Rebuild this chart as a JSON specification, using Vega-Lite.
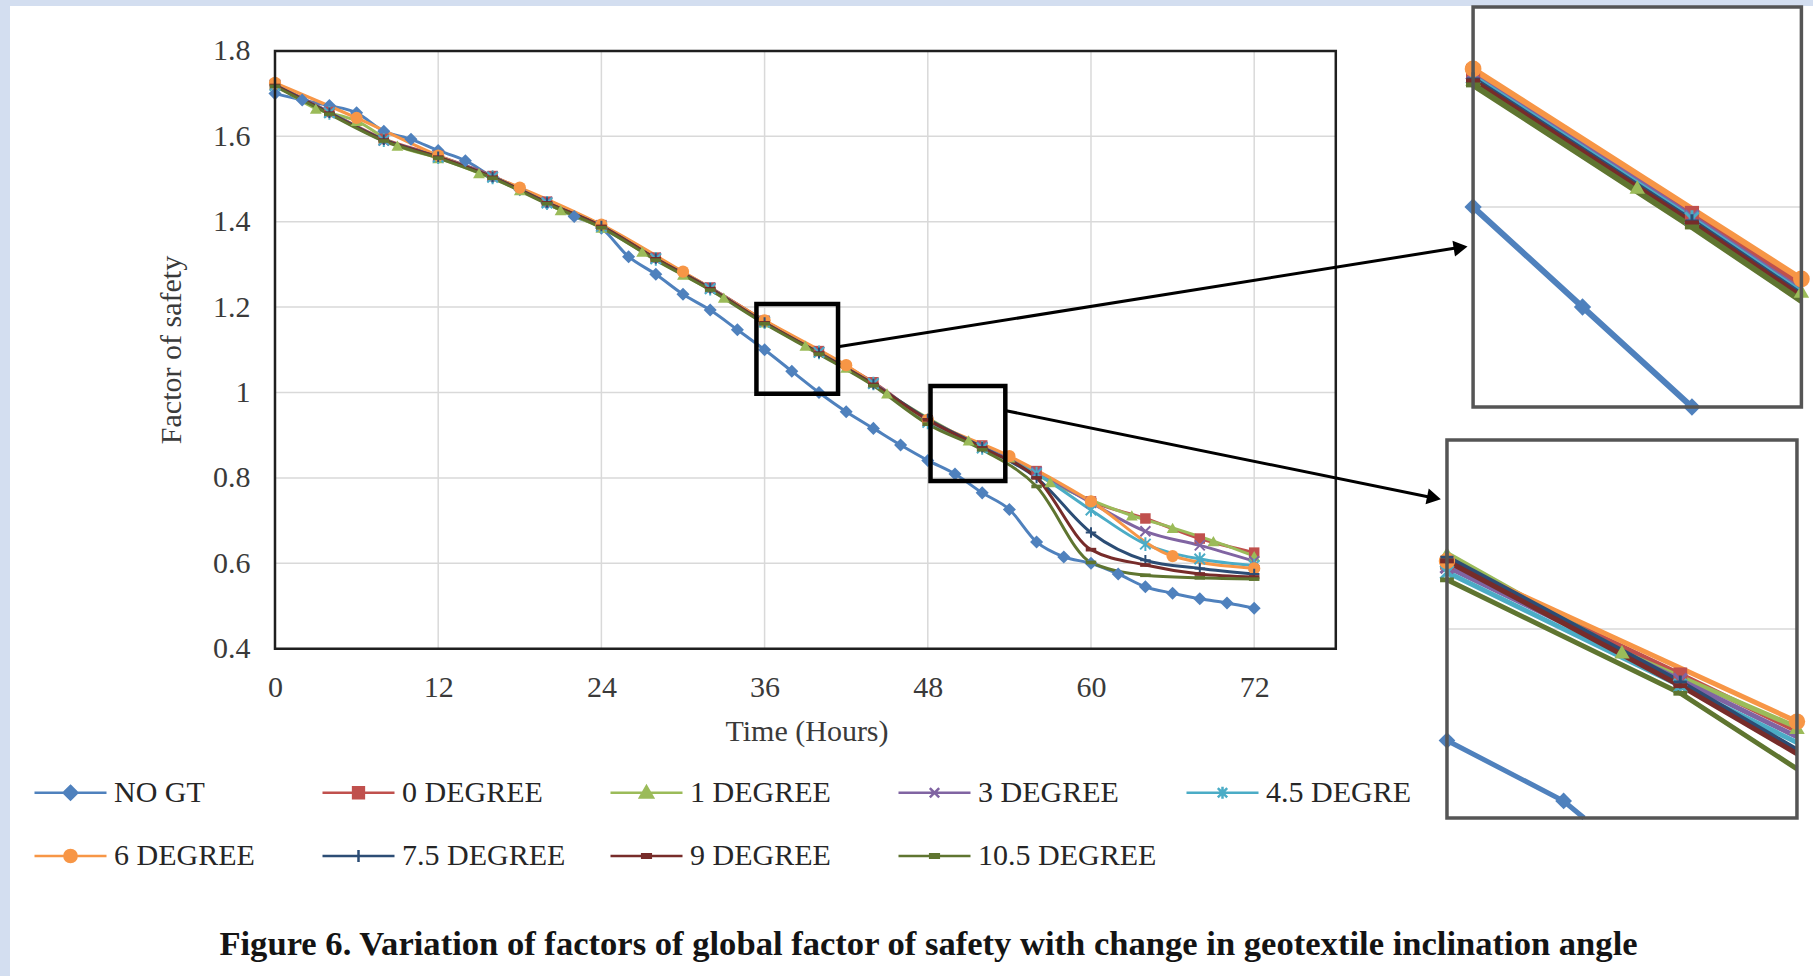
{
  "$schema": "https://vega.github.io/schema/vega-lite/v6.json",
  "width": 1803,
  "height": 970,
  "autosize": {"type": "none"},
  "padding": {"left": 10, "top": 6, "right": 0, "bottom": 0},
  "background": "#d3def0",
  "config": {
    "font": "Liberation Serif",
    "view": {"stroke": null, "fill": "white"}
  },
  "title": {
    "text": "Figure 6. Variation of factors of global factor of safety with change in geotextile inclination angle",
    "orient": "bottom", "frame": "group", "anchor": "middle", "offset": -31, "dx": 17, "baseline": "middle",
    "font": "Liberation Serif", "fontSize": 34.6, "fontWeight": "bold", "color": "#141414"
  },
  "datasets": {
    "one": [{}],
    "hgrid": [{"g": 0.6}, {"g": 0.8}, {"g": 1.0}, {"g": 1.2}, {"g": 1.4}, {"g": 1.6}],
    "vgrid": [{"g": 12}, {"g": 24}, {"g": 36}, {"g": 48}, {"g": 60}, {"g": 72}],
    "main": [
      {"s": "NO GT", "t": 0, "v": 1.70}, {"s": "NO GT", "t": 2, "v": 1.685}, {"s": "NO GT", "t": 4, "v": 1.672}, {"s": "NO GT", "t": 6, "v": 1.655},
      {"s": "NO GT", "t": 8, "v": 1.612}, {"s": "NO GT", "t": 10, "v": 1.593}, {"s": "NO GT", "t": 12, "v": 1.567}, {"s": "NO GT", "t": 14, "v": 1.543},
      {"s": "NO GT", "t": 16, "v": 1.505}, {"s": "NO GT", "t": 18, "v": 1.475}, {"s": "NO GT", "t": 20, "v": 1.443}, {"s": "NO GT", "t": 22, "v": 1.412},
      {"s": "NO GT", "t": 24, "v": 1.385}, {"s": "NO GT", "t": 26, "v": 1.318}, {"s": "NO GT", "t": 28, "v": 1.277}, {"s": "NO GT", "t": 30, "v": 1.23},
      {"s": "NO GT", "t": 32, "v": 1.193}, {"s": "NO GT", "t": 34, "v": 1.147}, {"s": "NO GT", "t": 36, "v": 1.10}, {"s": "NO GT", "t": 38, "v": 1.05},
      {"s": "NO GT", "t": 40, "v": 1.0}, {"s": "NO GT", "t": 42, "v": 0.955}, {"s": "NO GT", "t": 44, "v": 0.916}, {"s": "NO GT", "t": 46, "v": 0.877},
      {"s": "NO GT", "t": 48, "v": 0.841}, {"s": "NO GT", "t": 50, "v": 0.809}, {"s": "NO GT", "t": 52, "v": 0.765}, {"s": "NO GT", "t": 54, "v": 0.726},
      {"s": "NO GT", "t": 56, "v": 0.65}, {"s": "NO GT", "t": 58, "v": 0.615}, {"s": "NO GT", "t": 60, "v": 0.60}, {"s": "NO GT", "t": 62, "v": 0.575},
      {"s": "NO GT", "t": 64, "v": 0.545}, {"s": "NO GT", "t": 66, "v": 0.53}, {"s": "NO GT", "t": 68, "v": 0.517}, {"s": "NO GT", "t": 70, "v": 0.507},
      {"s": "NO GT", "t": 72, "v": 0.495},
      {"s": "0 DEGREE", "t": 0, "v": 1.722}, {"s": "0 DEGREE", "t": 4, "v": 1.657}, {"s": "0 DEGREE", "t": 8, "v": 1.594}, {"s": "0 DEGREE", "t": 12, "v": 1.554},
      {"s": "0 DEGREE", "t": 16, "v": 1.507}, {"s": "0 DEGREE", "t": 20, "v": 1.447}, {"s": "0 DEGREE", "t": 24, "v": 1.392}, {"s": "0 DEGREE", "t": 28, "v": 1.316},
      {"s": "0 DEGREE", "t": 32, "v": 1.246}, {"s": "0 DEGREE", "t": 36, "v": 1.168}, {"s": "0 DEGREE", "t": 40, "v": 1.097}, {"s": "0 DEGREE", "t": 44, "v": 1.024},
      {"s": "0 DEGREE", "t": 48, "v": 0.935}, {"s": "0 DEGREE", "t": 52, "v": 0.876}, {"s": "0 DEGREE", "t": 56, "v": 0.816}, {"s": "0 DEGREE", "t": 60, "v": 0.745},
      {"s": "0 DEGREE", "t": 64, "v": 0.705}, {"s": "0 DEGREE", "t": 68, "v": 0.658}, {"s": "0 DEGREE", "t": 72, "v": 0.625},
      {"s": "1 DEGREE", "t": 0, "v": 1.722}, {"s": "1 DEGREE", "t": 3, "v": 1.665}, {"s": "1 DEGREE", "t": 6, "v": 1.636}, {"s": "1 DEGREE", "t": 9, "v": 1.578},
      {"s": "1 DEGREE", "t": 12, "v": 1.549}, {"s": "1 DEGREE", "t": 15, "v": 1.514}, {"s": "1 DEGREE", "t": 18, "v": 1.474}, {"s": "1 DEGREE", "t": 21, "v": 1.427},
      {"s": "1 DEGREE", "t": 24, "v": 1.386}, {"s": "1 DEGREE", "t": 27, "v": 1.330}, {"s": "1 DEGREE", "t": 30, "v": 1.276}, {"s": "1 DEGREE", "t": 33, "v": 1.222},
      {"s": "1 DEGREE", "t": 36, "v": 1.164}, {"s": "1 DEGREE", "t": 39, "v": 1.110}, {"s": "1 DEGREE", "t": 42, "v": 1.058}, {"s": "1 DEGREE", "t": 45, "v": 0.998},
      {"s": "1 DEGREE", "t": 48, "v": 0.940}, {"s": "1 DEGREE", "t": 51, "v": 0.888}, {"s": "1 DEGREE", "t": 54, "v": 0.848}, {"s": "1 DEGREE", "t": 57, "v": 0.790},
      {"s": "1 DEGREE", "t": 60, "v": 0.748}, {"s": "1 DEGREE", "t": 63, "v": 0.712}, {"s": "1 DEGREE", "t": 66, "v": 0.683}, {"s": "1 DEGREE", "t": 69, "v": 0.652},
      {"s": "1 DEGREE", "t": 72, "v": 0.617},
      {"s": "3 DEGREE", "t": 0, "v": 1.72}, {"s": "3 DEGREE", "t": 4, "v": 1.656}, {"s": "3 DEGREE", "t": 8, "v": 1.59}, {"s": "3 DEGREE", "t": 12, "v": 1.553},
      {"s": "3 DEGREE", "t": 16, "v": 1.506}, {"s": "3 DEGREE", "t": 20, "v": 1.446}, {"s": "3 DEGREE", "t": 24, "v": 1.39}, {"s": "3 DEGREE", "t": 28, "v": 1.315},
      {"s": "3 DEGREE", "t": 32, "v": 1.245}, {"s": "3 DEGREE", "t": 36, "v": 1.167}, {"s": "3 DEGREE", "t": 40, "v": 1.095}, {"s": "3 DEGREE", "t": 44, "v": 1.022},
      {"s": "3 DEGREE", "t": 48, "v": 0.933}, {"s": "3 DEGREE", "t": 52, "v": 0.873}, {"s": "3 DEGREE", "t": 56, "v": 0.814}, {"s": "3 DEGREE", "t": 60, "v": 0.742},
      {"s": "3 DEGREE", "t": 64, "v": 0.675}, {"s": "3 DEGREE", "t": 68, "v": 0.642}, {"s": "3 DEGREE", "t": 72, "v": 0.605},
      {"s": "4.5 DEGREE", "t": 0, "v": 1.719}, {"s": "4.5 DEGREE", "t": 4, "v": 1.655}, {"s": "4.5 DEGREE", "t": 8, "v": 1.591}, {"s": "4.5 DEGREE", "t": 12, "v": 1.551},
      {"s": "4.5 DEGREE", "t": 16, "v": 1.504}, {"s": "4.5 DEGREE", "t": 20, "v": 1.444}, {"s": "4.5 DEGREE", "t": 24, "v": 1.389}, {"s": "4.5 DEGREE", "t": 28, "v": 1.313},
      {"s": "4.5 DEGREE", "t": 32, "v": 1.243}, {"s": "4.5 DEGREE", "t": 36, "v": 1.165}, {"s": "4.5 DEGREE", "t": 40, "v": 1.094}, {"s": "4.5 DEGREE", "t": 44, "v": 1.021},
      {"s": "4.5 DEGREE", "t": 48, "v": 0.930}, {"s": "4.5 DEGREE", "t": 52, "v": 0.870}, {"s": "4.5 DEGREE", "t": 56, "v": 0.81}, {"s": "4.5 DEGREE", "t": 60, "v": 0.725},
      {"s": "4.5 DEGREE", "t": 64, "v": 0.645}, {"s": "4.5 DEGREE", "t": 68, "v": 0.61}, {"s": "4.5 DEGREE", "t": 72, "v": 0.595},
      {"s": "6 DEGREE", "t": 0, "v": 1.725}, {"s": "6 DEGREE", "t": 6, "v": 1.643}, {"s": "6 DEGREE", "t": 12, "v": 1.555}, {"s": "6 DEGREE", "t": 18, "v": 1.48},
      {"s": "6 DEGREE", "t": 24, "v": 1.393}, {"s": "6 DEGREE", "t": 30, "v": 1.283}, {"s": "6 DEGREE", "t": 36, "v": 1.169}, {"s": "6 DEGREE", "t": 42, "v": 1.064},
      {"s": "6 DEGREE", "t": 48, "v": 0.936}, {"s": "6 DEGREE", "t": 54, "v": 0.851}, {"s": "6 DEGREE", "t": 60, "v": 0.745}, {"s": "6 DEGREE", "t": 66, "v": 0.617},
      {"s": "6 DEGREE", "t": 72, "v": 0.588},
      {"s": "7.5 DEGREE", "t": 0, "v": 1.72}, {"s": "7.5 DEGREE", "t": 4, "v": 1.655}, {"s": "7.5 DEGREE", "t": 8, "v": 1.592}, {"s": "7.5 DEGREE", "t": 12, "v": 1.552},
      {"s": "7.5 DEGREE", "t": 16, "v": 1.505}, {"s": "7.5 DEGREE", "t": 20, "v": 1.445}, {"s": "7.5 DEGREE", "t": 24, "v": 1.39}, {"s": "7.5 DEGREE", "t": 28, "v": 1.314},
      {"s": "7.5 DEGREE", "t": 32, "v": 1.244}, {"s": "7.5 DEGREE", "t": 36, "v": 1.164}, {"s": "7.5 DEGREE", "t": 40, "v": 1.093}, {"s": "7.5 DEGREE", "t": 44, "v": 1.02},
      {"s": "7.5 DEGREE", "t": 48, "v": 0.938}, {"s": "7.5 DEGREE", "t": 52, "v": 0.872}, {"s": "7.5 DEGREE", "t": 56, "v": 0.80}, {"s": "7.5 DEGREE", "t": 60, "v": 0.672},
      {"s": "7.5 DEGREE", "t": 64, "v": 0.607}, {"s": "7.5 DEGREE", "t": 68, "v": 0.588}, {"s": "7.5 DEGREE", "t": 72, "v": 0.575},
      {"s": "9 DEGREE", "t": 0, "v": 1.719}, {"s": "9 DEGREE", "t": 4, "v": 1.654}, {"s": "9 DEGREE", "t": 8, "v": 1.591}, {"s": "9 DEGREE", "t": 12, "v": 1.551},
      {"s": "9 DEGREE", "t": 16, "v": 1.504}, {"s": "9 DEGREE", "t": 20, "v": 1.444}, {"s": "9 DEGREE", "t": 24, "v": 1.389}, {"s": "9 DEGREE", "t": 28, "v": 1.313},
      {"s": "9 DEGREE", "t": 32, "v": 1.243}, {"s": "9 DEGREE", "t": 36, "v": 1.163}, {"s": "9 DEGREE", "t": 40, "v": 1.092}, {"s": "9 DEGREE", "t": 44, "v": 1.019},
      {"s": "9 DEGREE", "t": 48, "v": 0.936}, {"s": "9 DEGREE", "t": 52, "v": 0.87}, {"s": "9 DEGREE", "t": 56, "v": 0.80}, {"s": "9 DEGREE", "t": 60, "v": 0.632},
      {"s": "9 DEGREE", "t": 64, "v": 0.596}, {"s": "9 DEGREE", "t": 68, "v": 0.575}, {"s": "9 DEGREE", "t": 72, "v": 0.568},
      {"s": "10.5 DEGREE", "t": 0, "v": 1.717}, {"s": "10.5 DEGREE", "t": 4, "v": 1.652}, {"s": "10.5 DEGREE", "t": 8, "v": 1.589}, {"s": "10.5 DEGREE", "t": 12, "v": 1.549},
      {"s": "10.5 DEGREE", "t": 16, "v": 1.502}, {"s": "10.5 DEGREE", "t": 20, "v": 1.442}, {"s": "10.5 DEGREE", "t": 24, "v": 1.386}, {"s": "10.5 DEGREE", "t": 28, "v": 1.31},
      {"s": "10.5 DEGREE", "t": 32, "v": 1.24}, {"s": "10.5 DEGREE", "t": 36, "v": 1.161}, {"s": "10.5 DEGREE", "t": 40, "v": 1.09}, {"s": "10.5 DEGREE", "t": 44, "v": 1.016},
      {"s": "10.5 DEGREE", "t": 48, "v": 0.926}, {"s": "10.5 DEGREE", "t": 52, "v": 0.866}, {"s": "10.5 DEGREE", "t": 56, "v": 0.78}, {"s": "10.5 DEGREE", "t": 60, "v": 0.602},
      {"s": "10.5 DEGREE", "t": 64, "v": 0.572}, {"s": "10.5 DEGREE", "t": 68, "v": 0.566}, {"s": "10.5 DEGREE", "t": 72, "v": 0.563}
    ],
    "inset1": [
      {"s": "NO GT", "t": 36, "v": 1.10}, {"s": "NO GT", "t": 38, "v": 1.05}, {"s": "NO GT", "t": 40, "v": 1.0},
      {"s": "0 DEGREE", "t": 36, "v": 1.168}, {"s": "0 DEGREE", "t": 40, "v": 1.097}, {"s": "0 DEGREE", "t": 42, "v": 1.061},
      {"s": "1 DEGREE", "t": 36, "v": 1.164}, {"s": "1 DEGREE", "t": 39, "v": 1.110}, {"s": "1 DEGREE", "t": 42, "v": 1.058},
      {"s": "3 DEGREE", "t": 36, "v": 1.167}, {"s": "3 DEGREE", "t": 40, "v": 1.095}, {"s": "3 DEGREE", "t": 42, "v": 1.058},
      {"s": "4.5 DEGREE", "t": 36, "v": 1.165}, {"s": "4.5 DEGREE", "t": 40, "v": 1.094}, {"s": "4.5 DEGREE", "t": 42, "v": 1.057},
      {"s": "6 DEGREE", "t": 36, "v": 1.169}, {"s": "6 DEGREE", "t": 42, "v": 1.064},
      {"s": "7.5 DEGREE", "t": 36, "v": 1.164}, {"s": "7.5 DEGREE", "t": 40, "v": 1.093}, {"s": "7.5 DEGREE", "t": 42, "v": 1.056},
      {"s": "9 DEGREE", "t": 36, "v": 1.163}, {"s": "9 DEGREE", "t": 40, "v": 1.092}, {"s": "9 DEGREE", "t": 42, "v": 1.055},
      {"s": "10.5 DEGREE", "t": 36, "v": 1.161}, {"s": "10.5 DEGREE", "t": 40, "v": 1.09}, {"s": "10.5 DEGREE", "t": 42, "v": 1.053}
    ],
    "inset2": [
      {"s": "NO GT", "t": 48, "v": 0.841}, {"s": "NO GT", "t": 50, "v": 0.809}, {"s": "NO GT", "t": 50.35, "v": 0.8},
      {"s": "0 DEGREE", "t": 48, "v": 0.935}, {"s": "0 DEGREE", "t": 52, "v": 0.876}, {"s": "0 DEGREE", "t": 54, "v": 0.846},
      {"s": "1 DEGREE", "t": 48, "v": 0.940}, {"s": "1 DEGREE", "t": 51, "v": 0.888}, {"s": "1 DEGREE", "t": 54, "v": 0.848},
      {"s": "3 DEGREE", "t": 48, "v": 0.933}, {"s": "3 DEGREE", "t": 52, "v": 0.873}, {"s": "3 DEGREE", "t": 54, "v": 0.843},
      {"s": "4.5 DEGREE", "t": 48, "v": 0.930}, {"s": "4.5 DEGREE", "t": 52, "v": 0.870}, {"s": "4.5 DEGREE", "t": 54, "v": 0.84},
      {"s": "6 DEGREE", "t": 48, "v": 0.936}, {"s": "6 DEGREE", "t": 54, "v": 0.851},
      {"s": "7.5 DEGREE", "t": 48, "v": 0.938}, {"s": "7.5 DEGREE", "t": 52, "v": 0.872}, {"s": "7.5 DEGREE", "t": 54, "v": 0.836},
      {"s": "9 DEGREE", "t": 48, "v": 0.936}, {"s": "9 DEGREE", "t": 52, "v": 0.870}, {"s": "9 DEGREE", "t": 54, "v": 0.834},
      {"s": "10.5 DEGREE", "t": 48, "v": 0.926}, {"s": "10.5 DEGREE", "t": 52, "v": 0.866}, {"s": "10.5 DEGREE", "t": 54, "v": 0.826}
    ]
  },
  "resolve": {"scale": {"x": "independent", "y": "independent"}},
  "layer": [
    {
      "layer": [
        {
          "data": {"name": "hgrid"},
          "mark": {"type": "rule", "color": "#d9d9d9", "strokeWidth": 1.5},
          "encoding": {
            "y": {"field": "g", "type": "quantitative", "scale": {"domain": [-0.3665, 1.9052], "nice": false, "zero": false}},
            "x": {"datum": 0, "type": "quantitative", "scale": {"domain": [-19.485, 113.089], "nice": false, "zero": false}},
            "x2": {"datum": 78}
          }
        },
        {
          "data": {"name": "vgrid"},
          "mark": {"type": "rule", "color": "#d9d9d9", "strokeWidth": 1.5},
          "encoding": {
            "x": {"field": "g", "type": "quantitative", "scale": {"domain": [-19.485, 113.089], "nice": false, "zero": false}},
            "y": {"datum": 0.4, "type": "quantitative", "scale": {"domain": [-0.3665, 1.9052], "nice": false, "zero": false}},
            "y2": {"datum": 1.8}
          }
        },
        {
          "data": {"name": "main"},
          "mark": {"type": "line", "interpolate": "monotone", "strokeWidth": 3},
          "encoding": {
            "x": {
              "field": "t", "type": "quantitative",
              "scale": {"domain": [-19.485, 113.089], "nice": false, "zero": false},
              "axis": {
                "values": [0, 12, 24, 36, 48, 60, 72], "domain": false, "ticks": false, "grid": false,
                "offset": -327.3, "labelPadding": 24, "labelFont": "Liberation Serif", "labelFontSize": 30,
                "labelColor": "#3a3a3a", "labelFlush": false, "labelOverlap": false, "zindex": 1,
                "title": "Time (Hours)", "titleFont": "Liberation Serif", "titleFontSize": 30, "titleFontWeight": "normal",
                "titleColor": "#3a3a3a", "titleX": 796.5, "titleY": 83, "titleBaseline": "middle", "titleAlign": "center", "titleAngle": 0
              }
            },
            "y": {
              "field": "v", "type": "quantitative",
              "scale": {"domain": [-0.3665, 1.9052], "nice": false, "zero": false},
              "axis": {
                "values": [0.4, 0.6, 0.8, 1.0, 1.2, 1.4, 1.6, 1.8], "format": "~g", "domain": false, "ticks": false, "grid": false,
                "offset": -265, "labelPadding": 25, "labelFont": "Liberation Serif", "labelFontSize": 30,
                "labelColor": "#3a3a3a", "labelFlush": false, "labelOverlap": false, "labelBaseline": "middle", "zindex": 1,
                "title": "Factor of safety", "titleFont": "Liberation Serif", "titleFontSize": 30, "titleFontWeight": "normal",
                "titleColor": "#3a3a3a", "titleX": -104, "titleY": 343.5, "titleAngle": -90, "titleBaseline": "middle", "titleAlign": "center"
              }
            },
            "color": {
              "field": "s", "type": "nominal",
              "scale": {
                "domain": ["NO GT", "0 DEGREE", "1 DEGREE", "3 DEGREE", "4.5 DEGREE", "6 DEGREE", "7.5 DEGREE", "9 DEGREE", "10.5 DEGREE"],
                "range": ["#4F81BD", "#C0504D", "#9BBB59", "#8064A2", "#4BACC6", "#F79646", "#2C4D75", "#772C2A", "#5F7530"]
              },
              "legend": {
                "orient": "none", "legendX": 23, "legendY": 749, "columns": 5, "direction": "horizontal", "title": null,
                "symbolSize": 5184, "symbolStrokeWidth": 2.5, "labelFont": "Liberation Serif", "labelFontSize": 30,
                "labelColor": "#262626", "labelOffset": 6, "columnPadding": 24, "rowPadding": 10.5, "gridAlign": "all",
                "padding": 0, "labelLimit": 400,
                "encode": {
                  "symbols": {
                    "update": {
                      "shape": {"signal": "['M-1,0H1M0,-0.19L0.19,0L0,0.19L-0.19,0Z','M-1,0H1M-0.15,-0.15H0.15V0.15H-0.15Z','M-1,0H1M0,-0.18L0.18,0.13L-0.18,0.13Z','M-1,0H1M-0.13,-0.13L0.13,0.13M-0.13,0.13L0.13,-0.13','M-1,0H1M-0.13,-0.13L0.13,0.13M-0.13,0.13L0.13,-0.13M0,-0.17V0.17','M-1,0H1M0.17,0A0.17,0.17,0,1,1,-0.17,0A0.17,0.17,0,1,1,0.17,0Z','M-1,0H1M0,-0.17V0.17','M-1,0H1M-0.12,-0.05H0.12V0.05H-0.12Z','M-1,0H1M-0.12,-0.05H0.12V0.05H-0.12Z'][indexof(['NO GT','0 DEGREE','1 DEGREE','3 DEGREE','4.5 DEGREE','6 DEGREE','7.5 DEGREE','9 DEGREE','10.5 DEGREE'], datum.value)]"},
                      "fill": {"signal": "scale('color', datum.value)"},
                      "stroke": {"signal": "scale('color', datum.value)"},
                      "strokeWidth": {"value": 2.5},
                      "opacity": {"value": 1}
                    }
                  },
                  "labels": {
                    "update": {
                      "limit": {"signal": "datum.value === '4.5 DEGREE' ? 153 : 400"},
                      "ellipsis": {"value": " "}
                    }
                  }
                }
              }
            }
          }
        },
        {
          "data": {"name": "main"},
          "transform": [{"filter": {"field": "s", "equal": "NO GT"}}],
          "mark": {"type": "point", "shape": "diamond", "filled": true, "opacity": 1, "size": 170},
          "encoding": {
            "x": {"field": "t", "type": "quantitative", "scale": {"domain": [-19.485, 113.089], "nice": false, "zero": false}},
            "y": {"field": "v", "type": "quantitative", "scale": {"domain": [-0.3665, 1.9052], "nice": false, "zero": false}},
            "color": {"field": "s", "type": "nominal"}
          }
        },
        {
          "data": {"name": "main"},
          "transform": [{"filter": {"field": "s", "equal": "0 DEGREE"}}],
          "mark": {"type": "point", "shape": "square", "filled": true, "opacity": 1, "size": 110},
          "encoding": {
            "x": {"field": "t", "type": "quantitative", "scale": {"domain": [-19.485, 113.089], "nice": false, "zero": false}},
            "y": {"field": "v", "type": "quantitative", "scale": {"domain": [-0.3665, 1.9052], "nice": false, "zero": false}},
            "color": {"field": "s", "type": "nominal"}
          }
        },
        {
          "data": {"name": "main"},
          "transform": [{"filter": {"field": "s", "equal": "1 DEGREE"}}],
          "mark": {"type": "point", "shape": "triangle-up", "filled": true, "opacity": 1, "size": 140},
          "encoding": {
            "x": {"field": "t", "type": "quantitative", "scale": {"domain": [-19.485, 113.089], "nice": false, "zero": false}},
            "y": {"field": "v", "type": "quantitative", "scale": {"domain": [-0.3665, 1.9052], "nice": false, "zero": false}},
            "color": {"field": "s", "type": "nominal"}
          }
        },
        {
          "data": {"name": "main"},
          "transform": [{"filter": {"field": "s", "equal": "3 DEGREE"}}],
          "mark": {"type": "point", "shape": "M-1,-1L1,1M-1,1L1,-1", "filled": false, "opacity": 1, "size": 100, "strokeWidth": 2},
          "encoding": {
            "x": {"field": "t", "type": "quantitative", "scale": {"domain": [-19.485, 113.089], "nice": false, "zero": false}},
            "y": {"field": "v", "type": "quantitative", "scale": {"domain": [-0.3665, 1.9052], "nice": false, "zero": false}},
            "color": {"field": "s", "type": "nominal"}
          }
        },
        {
          "data": {"name": "main"},
          "transform": [{"filter": {"field": "s", "equal": "4.5 DEGREE"}}],
          "mark": {"type": "point", "shape": "M-1,-1L1,1M-1,1L1,-1M0,-1.3V1.3", "filled": false, "opacity": 1, "size": 110, "strokeWidth": 2},
          "encoding": {
            "x": {"field": "t", "type": "quantitative", "scale": {"domain": [-19.485, 113.089], "nice": false, "zero": false}},
            "y": {"field": "v", "type": "quantitative", "scale": {"domain": [-0.3665, 1.9052], "nice": false, "zero": false}},
            "color": {"field": "s", "type": "nominal"}
          }
        },
        {
          "data": {"name": "main"},
          "transform": [{"filter": {"field": "s", "equal": "6 DEGREE"}}],
          "mark": {"type": "point", "shape": "circle", "filled": true, "opacity": 1, "size": 150},
          "encoding": {
            "x": {"field": "t", "type": "quantitative", "scale": {"domain": [-19.485, 113.089], "nice": false, "zero": false}},
            "y": {"field": "v", "type": "quantitative", "scale": {"domain": [-0.3665, 1.9052], "nice": false, "zero": false}},
            "color": {"field": "s", "type": "nominal"}
          }
        },
        {
          "data": {"name": "main"},
          "transform": [{"filter": {"field": "s", "equal": "7.5 DEGREE"}}],
          "mark": {"type": "point", "shape": "M-1,0H1M0,-1V1", "filled": false, "opacity": 1, "size": 110, "strokeWidth": 2},
          "encoding": {
            "x": {"field": "t", "type": "quantitative", "scale": {"domain": [-19.485, 113.089], "nice": false, "zero": false}},
            "y": {"field": "v", "type": "quantitative", "scale": {"domain": [-0.3665, 1.9052], "nice": false, "zero": false}},
            "color": {"field": "s", "type": "nominal"}
          }
        },
        {
          "data": {"name": "main"},
          "transform": [{"filter": {"field": "s", "oneOf": ["9 DEGREE", "10.5 DEGREE"]}}],
          "mark": {"type": "point", "shape": "M-1,-0.35H1V0.35H-1Z", "filled": true, "opacity": 1, "size": 110},
          "encoding": {
            "x": {"field": "t", "type": "quantitative", "scale": {"domain": [-19.485, 113.089], "nice": false, "zero": false}},
            "y": {"field": "v", "type": "quantitative", "scale": {"domain": [-0.3665, 1.9052], "nice": false, "zero": false}},
            "color": {"field": "s", "type": "nominal"}
          }
        },
        {
          "data": {"name": "one"},
          "mark": {"type": "rect", "filled": false, "stroke": "#1f1f1f", "strokeWidth": 2.5},
          "encoding": {
            "x": {"datum": 0, "type": "quantitative", "scale": {"domain": [-19.485, 113.089], "nice": false, "zero": false}},
            "x2": {"datum": 78},
            "y": {"datum": 0.4, "type": "quantitative", "scale": {"domain": [-0.3665, 1.9052], "nice": false, "zero": false}},
            "y2": {"datum": 1.8}
          }
        },
        {
          "data": {"name": "one"},
          "mark": {"type": "rect", "filled": false, "stroke": "#000000", "strokeWidth": 4.5},
          "encoding": {
            "x": {"datum": 35.4, "type": "quantitative", "scale": {"domain": [-19.485, 113.089], "nice": false, "zero": false}},
            "x2": {"datum": 41.4},
            "y": {"datum": 0.997, "type": "quantitative", "scale": {"domain": [-0.3665, 1.9052], "nice": false, "zero": false}},
            "y2": {"datum": 1.2075}
          }
        },
        {
          "data": {"name": "one"},
          "mark": {"type": "rect", "filled": false, "stroke": "#000000", "strokeWidth": 4.5},
          "encoding": {
            "x": {"datum": 48.2, "type": "quantitative", "scale": {"domain": [-19.485, 113.089], "nice": false, "zero": false}},
            "x2": {"datum": 53.7},
            "y": {"datum": 0.793, "type": "quantitative", "scale": {"domain": [-0.3665, 1.9052], "nice": false, "zero": false}},
            "y2": {"datum": 1.0155}
          }
        },
        {
          "data": {"name": "one"},
          "mark": {"type": "rule", "color": "#000000", "strokeWidth": 3},
          "encoding": {
            "x": {"datum": 41.4, "type": "quantitative", "scale": {"domain": [-19.485, 113.089], "nice": false, "zero": false}},
            "x2": {"datum": 87.4},
            "y": {"datum": 1.107, "type": "quantitative", "scale": {"domain": [-0.3665, 1.9052], "nice": false, "zero": false}},
            "y2": {"datum": 1.3413}
          }
        },
        {
          "data": {"name": "one"},
          "mark": {"type": "rule", "color": "#000000", "strokeWidth": 3},
          "encoding": {
            "x": {"datum": 53.66, "type": "quantitative", "scale": {"domain": [-19.485, 113.089], "nice": false, "zero": false}},
            "x2": {"datum": 85.4},
            "y": {"datum": 0.958, "type": "quantitative", "scale": {"domain": [-0.3665, 1.9052], "nice": false, "zero": false}},
            "y2": {"datum": 0.7517}
          }
        },
        {
          "data": {"name": "one"},
          "mark": {"type": "point", "shape": "triangle-right", "filled": true, "color": "#000000", "opacity": 1, "size": 260, "angle": 351},
          "encoding": {
            "x": {"datum": 87.18, "type": "quantitative", "scale": {"domain": [-19.485, 113.089], "nice": false, "zero": false}},
            "y": {"datum": 1.3395, "type": "quantitative", "scale": {"domain": [-0.3665, 1.9052], "nice": false, "zero": false}}
          }
        },
        {
          "data": {"name": "one"},
          "mark": {"type": "point", "shape": "triangle-right", "filled": true, "color": "#000000", "opacity": 1, "size": 260, "angle": 11.5},
          "encoding": {
            "x": {"datum": 85.22, "type": "quantitative", "scale": {"domain": [-19.485, 113.089], "nice": false, "zero": false}},
            "y": {"datum": 0.7534, "type": "quantitative", "scale": {"domain": [-0.3665, 1.9052], "nice": false, "zero": false}}
          }
        }
      ]
    },
    {
      "layer": [
        {
          "data": {"name": "one"},
          "mark": {"type": "rect", "fill": "#ffffff", "strokeWidth": 0},
          "encoding": {
            "x": {"datum": 36, "type": "quantitative", "scale": {"domain": [9.262, 42.212], "nice": false, "zero": false}, "axis": null},
            "x2": {"datum": 42},
            "y": {"datum": 1.0, "type": "quantitative", "scale": {"domain": [0.71557, 1.20045], "nice": false, "zero": false}, "axis": null},
            "y2": {"datum": 1.2}
          }
        },
        {
          "data": {"name": "one"},
          "mark": {"type": "rule", "color": "#d9d9d9", "strokeWidth": 1.5},
          "encoding": {
            "x": {"datum": 36, "type": "quantitative", "scale": {"domain": [9.262, 42.212], "nice": false, "zero": false}, "axis": null},
            "x2": {"datum": 42},
            "y": {"datum": 1.1, "type": "quantitative", "scale": {"domain": [0.71557, 1.20045], "nice": false, "zero": false}, "axis": null}
          }
        },
        {
          "data": {"name": "inset1"},
          "mark": {"type": "line", "strokeWidth": 6},
          "encoding": {
            "x": {"field": "t", "type": "quantitative", "scale": {"domain": [9.262, 42.212], "nice": false, "zero": false}, "axis": null},
            "y": {"field": "v", "type": "quantitative", "scale": {"domain": [0.71557, 1.20045], "nice": false, "zero": false}, "axis": null},
            "color": {"field": "s", "type": "nominal"}
          }
        },
        {
          "data": {"name": "main"},
          "transform": [{"filter": {"field": "t", "range": [36, 42]}}, {"filter": {"field": "v", "range": [1.0, 1.2]}}, {"filter": {"field": "s", "equal": "NO GT"}}],
          "mark": {"type": "point", "shape": "diamond", "filled": true, "opacity": 1, "size": 300},
          "encoding": {
            "x": {"field": "t", "type": "quantitative", "scale": {"domain": [9.262, 42.212], "nice": false, "zero": false}, "axis": null},
            "y": {"field": "v", "type": "quantitative", "scale": {"domain": [0.71557, 1.20045], "nice": false, "zero": false}, "axis": null},
            "color": {"field": "s", "type": "nominal"}
          }
        },
        {
          "data": {"name": "main"},
          "transform": [{"filter": {"field": "t", "range": [36, 42]}}, {"filter": {"field": "v", "range": [1.0, 1.2]}}, {"filter": {"field": "s", "equal": "0 DEGREE"}}],
          "mark": {"type": "point", "shape": "square", "filled": true, "opacity": 1, "size": 200},
          "encoding": {
            "x": {"field": "t", "type": "quantitative", "scale": {"domain": [9.262, 42.212], "nice": false, "zero": false}, "axis": null},
            "y": {"field": "v", "type": "quantitative", "scale": {"domain": [0.71557, 1.20045], "nice": false, "zero": false}, "axis": null},
            "color": {"field": "s", "type": "nominal"}
          }
        },
        {
          "data": {"name": "main"},
          "transform": [{"filter": {"field": "t", "range": [36, 42]}}, {"filter": {"field": "v", "range": [1.0, 1.2]}}, {"filter": {"field": "s", "equal": "1 DEGREE"}}],
          "mark": {"type": "point", "shape": "triangle-up", "filled": true, "opacity": 1, "size": 240},
          "encoding": {
            "x": {"field": "t", "type": "quantitative", "scale": {"domain": [9.262, 42.212], "nice": false, "zero": false}, "axis": null},
            "y": {"field": "v", "type": "quantitative", "scale": {"domain": [0.71557, 1.20045], "nice": false, "zero": false}, "axis": null},
            "color": {"field": "s", "type": "nominal"}
          }
        },
        {
          "data": {"name": "main"},
          "transform": [{"filter": {"field": "t", "range": [36, 42]}}, {"filter": {"field": "v", "range": [1.0, 1.2]}}, {"filter": {"field": "s", "equal": "3 DEGREE"}}],
          "mark": {"type": "point", "shape": "M-1,-1L1,1M-1,1L1,-1", "filled": false, "opacity": 1, "size": 180, "strokeWidth": 3},
          "encoding": {
            "x": {"field": "t", "type": "quantitative", "scale": {"domain": [9.262, 42.212], "nice": false, "zero": false}, "axis": null},
            "y": {"field": "v", "type": "quantitative", "scale": {"domain": [0.71557, 1.20045], "nice": false, "zero": false}, "axis": null},
            "color": {"field": "s", "type": "nominal"}
          }
        },
        {
          "data": {"name": "main"},
          "transform": [{"filter": {"field": "t", "range": [36, 42]}}, {"filter": {"field": "v", "range": [1.0, 1.2]}}, {"filter": {"field": "s", "equal": "4.5 DEGREE"}}],
          "mark": {"type": "point", "shape": "M-1,-1L1,1M-1,1L1,-1M0,-1.3V1.3", "filled": false, "opacity": 1, "size": 180, "strokeWidth": 3},
          "encoding": {
            "x": {"field": "t", "type": "quantitative", "scale": {"domain": [9.262, 42.212], "nice": false, "zero": false}, "axis": null},
            "y": {"field": "v", "type": "quantitative", "scale": {"domain": [0.71557, 1.20045], "nice": false, "zero": false}, "axis": null},
            "color": {"field": "s", "type": "nominal"}
          }
        },
        {
          "data": {"name": "main"},
          "transform": [{"filter": {"field": "t", "range": [36, 42]}}, {"filter": {"field": "v", "range": [1.0, 1.2]}}, {"filter": {"field": "s", "equal": "6 DEGREE"}}],
          "mark": {"type": "point", "shape": "circle", "filled": true, "opacity": 1, "size": 280},
          "encoding": {
            "x": {"field": "t", "type": "quantitative", "scale": {"domain": [9.262, 42.212], "nice": false, "zero": false}, "axis": null},
            "y": {"field": "v", "type": "quantitative", "scale": {"domain": [0.71557, 1.20045], "nice": false, "zero": false}, "axis": null},
            "color": {"field": "s", "type": "nominal"}
          }
        },
        {
          "data": {"name": "main"},
          "transform": [{"filter": {"field": "t", "range": [36, 42]}}, {"filter": {"field": "v", "range": [1.0, 1.2]}}, {"filter": {"field": "s", "equal": "7.5 DEGREE"}}],
          "mark": {"type": "point", "shape": "M-1,0H1M0,-1V1", "filled": false, "opacity": 1, "size": 180, "strokeWidth": 3},
          "encoding": {
            "x": {"field": "t", "type": "quantitative", "scale": {"domain": [9.262, 42.212], "nice": false, "zero": false}, "axis": null},
            "y": {"field": "v", "type": "quantitative", "scale": {"domain": [0.71557, 1.20045], "nice": false, "zero": false}, "axis": null},
            "color": {"field": "s", "type": "nominal"}
          }
        },
        {
          "data": {"name": "main"},
          "transform": [{"filter": {"field": "t", "range": [36, 42]}}, {"filter": {"field": "v", "range": [1.0, 1.2]}}, {"filter": {"field": "s", "oneOf": ["9 DEGREE", "10.5 DEGREE"]}}],
          "mark": {"type": "point", "shape": "M-1,-0.35H1V0.35H-1Z", "filled": true, "opacity": 1, "size": 200},
          "encoding": {
            "x": {"field": "t", "type": "quantitative", "scale": {"domain": [9.262, 42.212], "nice": false, "zero": false}, "axis": null},
            "y": {"field": "v", "type": "quantitative", "scale": {"domain": [0.71557, 1.20045], "nice": false, "zero": false}, "axis": null},
            "color": {"field": "s", "type": "nominal"}
          }
        },
        {
          "data": {"name": "one"},
          "mark": {"type": "rect", "filled": false, "stroke": "#555555", "strokeWidth": 3.5},
          "encoding": {
            "x": {"datum": 36, "type": "quantitative", "scale": {"domain": [9.262, 42.212], "nice": false, "zero": false}, "axis": null},
            "x2": {"datum": 42},
            "y": {"datum": 1.0, "type": "quantitative", "scale": {"domain": [0.71557, 1.20045], "nice": false, "zero": false}, "axis": null},
            "y2": {"datum": 1.2}
          }
        }
      ]
    },
    {
      "layer": [
        {
          "data": {"name": "one"},
          "mark": {"type": "rect", "fill": "#ffffff", "strokeWidth": 0},
          "encoding": {
            "x": {"datum": 48, "type": "quantitative", "scale": {"domain": [23.365, 54.275], "nice": false, "zero": false}, "axis": null},
            "x2": {"datum": 54},
            "y": {"datum": 0.8, "type": "quantitative", "scale": {"domain": [0.7164, 1.22963], "nice": false, "zero": false}, "axis": null},
            "y2": {"datum": 1.0}
          }
        },
        {
          "data": {"name": "one"},
          "mark": {"type": "rule", "color": "#d9d9d9", "strokeWidth": 1.5},
          "encoding": {
            "x": {"datum": 48, "type": "quantitative", "scale": {"domain": [23.365, 54.275], "nice": false, "zero": false}, "axis": null},
            "x2": {"datum": 54},
            "y": {"datum": 0.9, "type": "quantitative", "scale": {"domain": [0.7164, 1.22963], "nice": false, "zero": false}, "axis": null}
          }
        },
        {
          "data": {"name": "inset2"},
          "mark": {"type": "line", "strokeWidth": 5},
          "encoding": {
            "x": {"field": "t", "type": "quantitative", "scale": {"domain": [23.365, 54.275], "nice": false, "zero": false}, "axis": null},
            "y": {"field": "v", "type": "quantitative", "scale": {"domain": [0.7164, 1.22963], "nice": false, "zero": false}, "axis": null},
            "color": {"field": "s", "type": "nominal"}
          }
        },
        {
          "data": {"name": "main"},
          "transform": [{"filter": {"field": "t", "range": [48, 54]}}, {"filter": {"field": "v", "range": [0.8, 1.0]}}, {"filter": {"field": "s", "equal": "NO GT"}}],
          "mark": {"type": "point", "shape": "diamond", "filled": true, "opacity": 1, "size": 280},
          "encoding": {
            "x": {"field": "t", "type": "quantitative", "scale": {"domain": [23.365, 54.275], "nice": false, "zero": false}, "axis": null},
            "y": {"field": "v", "type": "quantitative", "scale": {"domain": [0.7164, 1.22963], "nice": false, "zero": false}, "axis": null},
            "color": {"field": "s", "type": "nominal"}
          }
        },
        {
          "data": {"name": "main"},
          "transform": [{"filter": {"field": "t", "range": [48, 54]}}, {"filter": {"field": "v", "range": [0.8, 1.0]}}, {"filter": {"field": "s", "equal": "0 DEGREE"}}],
          "mark": {"type": "point", "shape": "square", "filled": true, "opacity": 1, "size": 190},
          "encoding": {
            "x": {"field": "t", "type": "quantitative", "scale": {"domain": [23.365, 54.275], "nice": false, "zero": false}, "axis": null},
            "y": {"field": "v", "type": "quantitative", "scale": {"domain": [0.7164, 1.22963], "nice": false, "zero": false}, "axis": null},
            "color": {"field": "s", "type": "nominal"}
          }
        },
        {
          "data": {"name": "main"},
          "transform": [{"filter": {"field": "t", "range": [48, 54]}}, {"filter": {"field": "v", "range": [0.8, 1.0]}}, {"filter": {"field": "s", "equal": "1 DEGREE"}}],
          "mark": {"type": "point", "shape": "triangle-up", "filled": true, "opacity": 1, "size": 240},
          "encoding": {
            "x": {"field": "t", "type": "quantitative", "scale": {"domain": [23.365, 54.275], "nice": false, "zero": false}, "axis": null},
            "y": {"field": "v", "type": "quantitative", "scale": {"domain": [0.7164, 1.22963], "nice": false, "zero": false}, "axis": null},
            "color": {"field": "s", "type": "nominal"}
          }
        },
        {
          "data": {"name": "main"},
          "transform": [{"filter": {"field": "t", "range": [48, 54]}}, {"filter": {"field": "v", "range": [0.8, 1.0]}}, {"filter": {"field": "s", "equal": "3 DEGREE"}}],
          "mark": {"type": "point", "shape": "M-1,-1L1,1M-1,1L1,-1", "filled": false, "opacity": 1, "size": 170, "strokeWidth": 3},
          "encoding": {
            "x": {"field": "t", "type": "quantitative", "scale": {"domain": [23.365, 54.275], "nice": false, "zero": false}, "axis": null},
            "y": {"field": "v", "type": "quantitative", "scale": {"domain": [0.7164, 1.22963], "nice": false, "zero": false}, "axis": null},
            "color": {"field": "s", "type": "nominal"}
          }
        },
        {
          "data": {"name": "main"},
          "transform": [{"filter": {"field": "t", "range": [48, 54]}}, {"filter": {"field": "v", "range": [0.8, 1.0]}}, {"filter": {"field": "s", "equal": "4.5 DEGREE"}}],
          "mark": {"type": "point", "shape": "M-1,-1L1,1M-1,1L1,-1M0,-1.3V1.3", "filled": false, "opacity": 1, "size": 170, "strokeWidth": 3},
          "encoding": {
            "x": {"field": "t", "type": "quantitative", "scale": {"domain": [23.365, 54.275], "nice": false, "zero": false}, "axis": null},
            "y": {"field": "v", "type": "quantitative", "scale": {"domain": [0.7164, 1.22963], "nice": false, "zero": false}, "axis": null},
            "color": {"field": "s", "type": "nominal"}
          }
        },
        {
          "data": {"name": "main"},
          "transform": [{"filter": {"field": "t", "range": [48, 54]}}, {"filter": {"field": "v", "range": [0.8, 1.0]}}, {"filter": {"field": "s", "equal": "6 DEGREE"}}],
          "mark": {"type": "point", "shape": "circle", "filled": true, "opacity": 1, "size": 270},
          "encoding": {
            "x": {"field": "t", "type": "quantitative", "scale": {"domain": [23.365, 54.275], "nice": false, "zero": false}, "axis": null},
            "y": {"field": "v", "type": "quantitative", "scale": {"domain": [0.7164, 1.22963], "nice": false, "zero": false}, "axis": null},
            "color": {"field": "s", "type": "nominal"}
          }
        },
        {
          "data": {"name": "main"},
          "transform": [{"filter": {"field": "t", "range": [48, 54]}}, {"filter": {"field": "v", "range": [0.8, 1.0]}}, {"filter": {"field": "s", "equal": "7.5 DEGREE"}}],
          "mark": {"type": "point", "shape": "M-1,0H1M0,-1V1", "filled": false, "opacity": 1, "size": 170, "strokeWidth": 3},
          "encoding": {
            "x": {"field": "t", "type": "quantitative", "scale": {"domain": [23.365, 54.275], "nice": false, "zero": false}, "axis": null},
            "y": {"field": "v", "type": "quantitative", "scale": {"domain": [0.7164, 1.22963], "nice": false, "zero": false}, "axis": null},
            "color": {"field": "s", "type": "nominal"}
          }
        },
        {
          "data": {"name": "main"},
          "transform": [{"filter": {"field": "t", "range": [48, 54]}}, {"filter": {"field": "v", "range": [0.8, 1.0]}}, {"filter": {"field": "s", "oneOf": ["9 DEGREE", "10.5 DEGREE"]}}],
          "mark": {"type": "point", "shape": "M-1,-0.35H1V0.35H-1Z", "filled": true, "opacity": 1, "size": 190},
          "encoding": {
            "x": {"field": "t", "type": "quantitative", "scale": {"domain": [23.365, 54.275], "nice": false, "zero": false}, "axis": null},
            "y": {"field": "v", "type": "quantitative", "scale": {"domain": [0.7164, 1.22963], "nice": false, "zero": false}, "axis": null},
            "color": {"field": "s", "type": "nominal"}
          }
        },
        {
          "data": {"name": "one"},
          "mark": {"type": "rect", "filled": false, "stroke": "#555555", "strokeWidth": 3.5},
          "encoding": {
            "x": {"datum": 48, "type": "quantitative", "scale": {"domain": [23.365, 54.275], "nice": false, "zero": false}, "axis": null},
            "x2": {"datum": 54},
            "y": {"datum": 0.8, "type": "quantitative", "scale": {"domain": [0.7164, 1.22963], "nice": false, "zero": false}, "axis": null},
            "y2": {"datum": 1.0}
          }
        }
      ]
    }
  ]
}
